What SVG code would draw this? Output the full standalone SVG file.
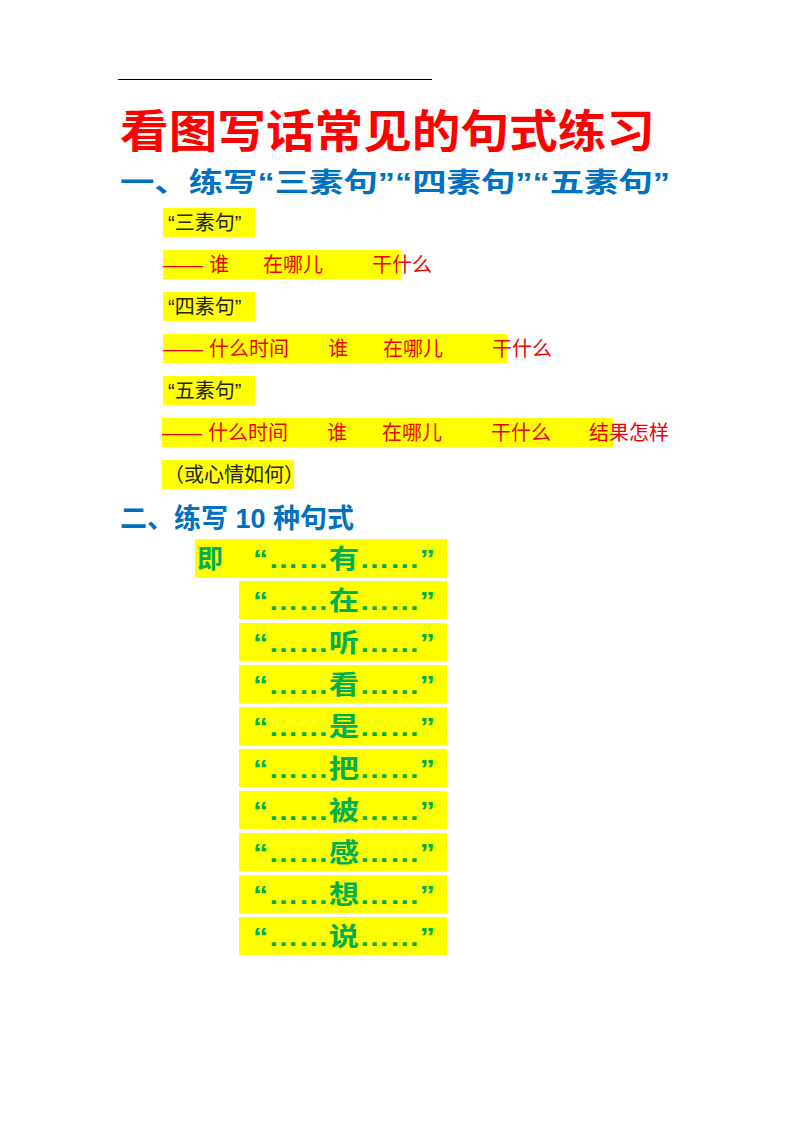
<svg xmlns="http://www.w3.org/2000/svg" width="800" height="1132" viewBox="0 0 800 1132">
<style>
.bg{fill:#ffff00}
.k{font-family:"Liberation Sans","Noto Sans CJK SC",sans-serif;font-size:20px;fill:#222}
.r{font-family:"Liberation Sans","Noto Sans CJK SC",sans-serif;font-size:20px;fill:#ee0000}
.g{font-family:"Liberation Sans","Noto Sans CJK SC",sans-serif;font-size:26px;font-weight:bold;fill:#00b050}
.h{font-family:"Liberation Sans","Noto Sans CJK SC",sans-serif;font-size:27px;font-weight:bold;fill:#0070c0}
</style>
<rect width="800" height="1132" fill="#fff"/>
<line x1="118" y1="79.5" x2="432" y2="79.5" stroke="#000" stroke-width="1.2"/>
<text x="120" y="148" font-family="Liberation Sans,Noto Sans CJK SC,sans-serif" font-size="45" font-weight="bold" fill="#ff0000" textLength="535" lengthAdjust="spacingAndGlyphs">看图写话常见的句式练习</text>
<text class="h" x="120" y="192" textLength="550" lengthAdjust="spacingAndGlyphs">一、练写“三素句”“四素句”“五素句”</text>
<rect class="bg" x="163" y="208" width="92" height="29"/>
<text class="k" x="168" y="230">“三素句”</text>
<rect class="bg" x="163" y="250" width="238" height="29"/>
<text class="r" y="272"><tspan x="163">——</tspan><tspan x="209">谁</tspan><tspan x="263">在哪儿</tspan><tspan x="372">干什么</tspan></text>
<rect class="bg" x="163" y="292" width="92" height="29"/>
<text class="k" x="168" y="314">“四素句”</text>
<rect class="bg" x="163" y="334" width="344" height="29"/>
<text class="r" y="356"><tspan x="163">——</tspan><tspan x="209">什么时间</tspan><tspan x="328">谁</tspan><tspan x="383">在哪儿</tspan><tspan x="492">干什么</tspan></text>
<rect class="bg" x="163" y="376" width="92" height="29"/>
<text class="k" x="168" y="398">“五素句”</text>
<rect class="bg" x="162" y="418" width="451" height="29"/>
<text class="r" y="440"><tspan x="162">——</tspan><tspan x="208">什么时间</tspan><tspan x="327">谁</tspan><tspan x="382">在哪儿</tspan><tspan x="491">干什么</tspan><tspan x="589">结果怎样</tspan></text>
<rect class="bg" x="162" y="460" width="132" height="29"/>
<text class="k" x="164" y="482">（或心情如何）</text>
<text class="h" x="120" y="528">二、练写 10 种句式</text>
<g id="patterns">
<rect class="bg" x="195" y="539" width="252" height="39"/>
<text class="g" x="197" y="568">即</text>
<rect class="bg" x="239" y="581" width="208" height="38"/>
<rect class="bg" x="239" y="623" width="208" height="38"/>
<rect class="bg" x="239" y="665" width="208" height="38"/>
<rect class="bg" x="239" y="707" width="208" height="38"/>
<rect class="bg" x="239" y="749" width="208" height="38"/>
<rect class="bg" x="239" y="791" width="208" height="38"/>
<rect class="bg" x="239" y="833" width="208" height="38"/>
<rect class="bg" x="239" y="875" width="208" height="38"/>
<rect class="bg" x="239" y="917" width="208" height="38"/>
<text class="g" x="253" y="568" textLength="182" lengthAdjust="spacingAndGlyphs">“……有……”</text>
<text class="g" x="253" y="610" textLength="182" lengthAdjust="spacingAndGlyphs">“……在……”</text>
<text class="g" x="253" y="652" textLength="182" lengthAdjust="spacingAndGlyphs">“……听……”</text>
<text class="g" x="253" y="694" textLength="182" lengthAdjust="spacingAndGlyphs">“……看……”</text>
<text class="g" x="253" y="736" textLength="182" lengthAdjust="spacingAndGlyphs">“……是……”</text>
<text class="g" x="253" y="778" textLength="182" lengthAdjust="spacingAndGlyphs">“……把……”</text>
<text class="g" x="253" y="820" textLength="182" lengthAdjust="spacingAndGlyphs">“……被……”</text>
<text class="g" x="253" y="862" textLength="182" lengthAdjust="spacingAndGlyphs">“……感……”</text>
<text class="g" x="253" y="904" textLength="182" lengthAdjust="spacingAndGlyphs">“……想……”</text>
<text class="g" x="253" y="946" textLength="182" lengthAdjust="spacingAndGlyphs">“……说……”</text>
</g>
</svg>
